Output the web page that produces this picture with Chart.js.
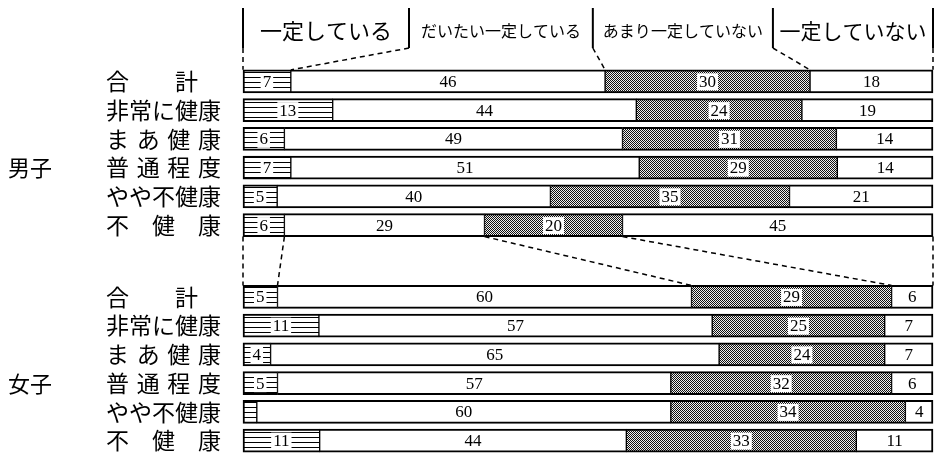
<!DOCTYPE html>
<html lang="ja">
<head>
<meta charset="utf-8">
<script src="https://cdn.jsdelivr.net/npm/chart.js@4"></script>
<style>
html,body{margin:0;padding:0;background:#fff;}
</style>
</head>
<body>
<canvas id="myChart" width="938" height="455"></canvas>
<script>
// 区分 (見出し)
const seriesNames = ['一定している','だいたい一定している','あまり一定していない','一定していない'];
// 行ラベル
const rowLabels = ['合\u3000\u3000計','非常に健康','ま\u2004あ\u2004健\u2004康','普\u2004通\u2004程\u2004度','やや不健康','不\u3000健\u3000康'];
const groupNames = ['男子','女子'];

// 男子 (%)
const boysA = [7,13,6,7,5,6];
const boysB = [46,44,49,51,40,29];
const boysC = [30,24,31,29,35,20];
const boysD = [18,19,14,14,21,45];
// 女子 (%)
const girlsA = [5,11,4,5,2,11];
const girlsB = [60,57,65,57,60,44];
const girlsC = [29,25,24,32,34,33];
const girlsD = [6,7,7,6,4,11];

// 見出しの区切り位置 (グラフ幅に対する割合)
const headerStops = [0, 0.2406, 0.507, 0.768, 1];
const headerSizes = [22, 16, 16, 21];
const GIRL_START = 7.5;

const canvas = document.getElementById('myChart');
const ctx = canvas.getContext('2d');

// 横線パターン
function hatchPattern(){
    const c = document.createElement('canvas');
    c.width = 4; c.height = 5;
    const g = c.getContext('2d');
    g.fillStyle = '#fff'; g.fillRect(0,0,4,5);
    g.fillStyle = '#000'; g.fillRect(0,2,4,1);
    return ctx.createPattern(c,'repeat');
}
// 網点パターン
function dotPattern(){
    const c = document.createElement('canvas');
    c.width = 2; c.height = 2;
    const g = c.getContext('2d');
    g.fillStyle = '#eee'; g.fillRect(0,0,2,2);
    g.fillStyle = '#111'; g.fillRect(0,0,1,1); g.fillRect(1,1,1,1);
    return ctx.createPattern(c,'repeat');
}

const boys = [boysA,boysB,boysC,boysD];
const girls = [girlsA,girlsB,girlsC,girlsD];
const rows = [];
rowLabels.forEach((lab,i)=>rows.push({pos:i, label:lab, vals:boys.map(s=>s[i])}));
rowLabels.forEach((lab,i)=>rows.push({pos:GIRL_START+i, label:lab, vals:girls.map(s=>s[i])}));

const fills = [hatchPattern(), '#fff', dotPattern(), '#fff'];
const borders = [
    {top:2,bottom:2,left:2,right:1},
    {top:2,bottom:2,left:1,right:1},
    {top:2,bottom:2,left:1,right:1},
    {top:2,bottom:2,left:1,right:2}
];

const datasets = seriesNames.map((name,k)=>({
    label: name,
    stack: 'all',
    data: rows.map(r=>{
        const sum = r.vals.reduce((a,b)=>a+b,0);
        return {x: r.vals[k]/sum*100, y: r.pos, raw: r.vals[k]};
    }),
    backgroundColor: fills[k],
    borderColor: '#000',
    borderWidth: borders[k],
    borderSkipped: false,
    barThickness: 23,
    clip: false
}));

const overlay = {
    id: 'overlay',
    afterDatasetsDraw(chart){
        const c = chart.ctx;
        const a = chart.chartArea;
        const metas = [0,1,2,3].map(k=>chart.getDatasetMeta(k));
        c.save();

        //数値
        c.textAlign = 'center';
        c.textBaseline = 'middle';
        c.font = '17px "Liberation Serif"';
        chart.data.datasets.forEach((ds,k)=>{
            metas[k].data.forEach((bar,i)=>{
                const v = ds.data[i].raw;
                if(v<=2) return;
                const cx = (bar.x+bar.base)/2, cy = bar.y;
                const t = String(v);
                const w = c.measureText(t).width;
                if(k===0 || k===2){
                    c.fillStyle = '#fff';
                    c.fillRect(cx-w/2-2, cy-8, w+4, 17);
                }
                c.fillStyle = '#000';
                c.fillText(t, cx, cy+1);
            });
        });

        //見出し
        const stops = headerStops.map(f=>a.left+f*(a.right-a.left));
        c.strokeStyle = '#000';
        c.lineWidth = 2;
        stops.forEach(sx=>{
            c.beginPath(); c.moveTo(sx,8); c.lineTo(sx,48); c.stroke();
        });
        c.fillStyle = '#000';
        seriesNames.forEach((n,k)=>{
            c.font = headerSizes[k]+'px "Noto Sans CJK JP"';
            c.fillText(n, (stops[k]+stops[k+1])/2, 31);
        });

        //破線
        const bound = (r,k)=>{
            if(k===0) return a.left;
            if(k===4) return a.right;
            return metas[k-1].data[r].x;
        };
        const top = r => metas[0].data[r].y - metas[0].data[r].height/2;
        const bottom = r => metas[0].data[r].y + metas[0].data[r].height/2;
        c.setLineDash([5,4]);
        c.lineWidth = 1.5;
        for(let k=0;k<5;k++){
            c.beginPath(); c.moveTo(stops[k],48); c.lineTo(bound(0,k),top(0)); c.stroke();
            c.beginPath(); c.moveTo(bound(5,k),bottom(5)); c.lineTo(bound(6,k),top(6)); c.stroke();
        }
        c.setLineDash([]);

        //男子・女子
        c.textAlign = 'left';
        c.font = '22px "Noto Sans CJK JP"';
        c.fillText(groupNames[0], 8, chart.scales.y.getPixelForValue(3));
        c.fillText(groupNames[1], 8, chart.scales.y.getPixelForValue(GIRL_START+3));
        c.restore();
    }
};

new Chart(ctx, {
    type: 'bar',
    data: { datasets: datasets },
    plugins: [overlay],
    options: {
        indexAxis: 'y',
        responsive: false,
        animation: false,
        layout: { padding: { left: 106, right: 5, top: 67, bottom: 0 } },
        plugins: { legend: { display: false }, tooltip: { enabled: false } },
        scales: {
            x: { type: 'linear', stacked: true, min: 0, max: 100, display: false },
            y: {
                type: 'linear',
                reverse: true,
                offset: false,
                min: -0.5,
                max: 13,
                grid: { display: false },
                border: { display: false },
                afterBuildTicks: s => { s.ticks = rows.map(r=>({value:r.pos})); },
                afterFit: s => { s.width = 137; s.paddingTop = 0; s.paddingBottom = 0; },
                ticks: {
                    autoSkip: false,
                    crossAlign: 'far',
                    color: '#000',
                    font: { family: '"Noto Sans CJK JP"', size: 23 },
                    callback: v => { const r = rows.find(r=>r.pos===v); return r ? r.label : ''; }
                }
            }
        }
    }
});
</script>
</body>
</html>
